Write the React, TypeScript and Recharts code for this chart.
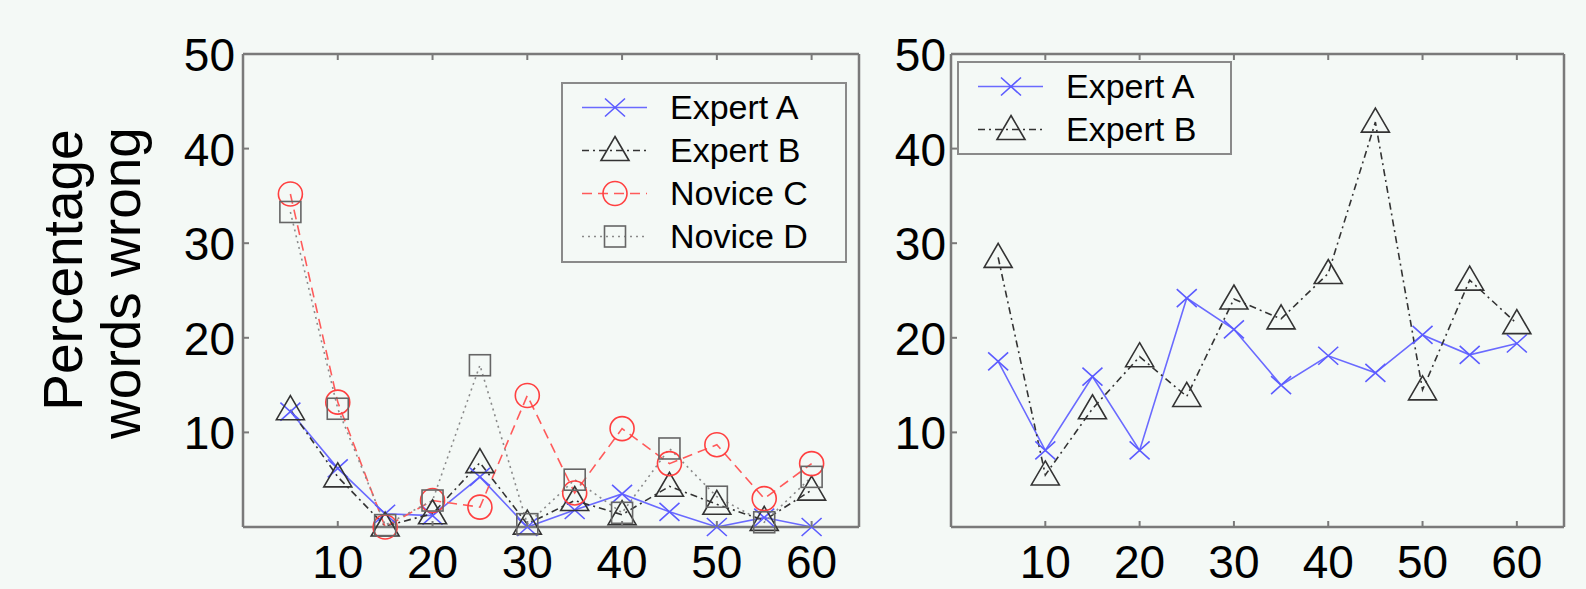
import React from 'react';
import { LineChart, Line, XAxis, YAxis, Legend } from 'recharts';

const BG = '#f4f9f6';
const AXIS = '#7a7a7a';
const FONT = '"Liberation Sans", Arial, Helvetica, sans-serif';

// x positions (same for both panels)
const xValues = [5, 10, 15, 20, 25, 30, 35, 40, 45, 50, 55, 60];
const xTicks = [10, 20, 30, 40, 50, 60];
const yTicks = [10, 20, 30, 40, 50];

// left panel
const expertALeft = [12.2, 6.2, 1.4, 1.2, 5.3, 0, 1.8, 3.5, 1.6, 0, 1.0, 0];
const expertBLeft = [12.4, 5.3, 0.1, 1.4, 6.8, 0.3, 2.8, 1.3, 4.3, 2.4, 0.7, 3.9];
const noviceCLeft = [35.2, 13.2, 0, 2.8, 2.1, 13.9, 3.6, 10.4, 6.7, 8.7, 3.0, 6.7];
const noviceDLeft = [33.3, 12.5, 0.2, 2.8, 17.1, 0.3, 5.0, 1.5, 8.3, 3.2, 0.5, 5.3];

// right panel
const expertARight = [17.5, 8.1, 15.9, 8.1, 24.2, 20.9, 15.0, 18.1, 16.3, 20.3, 18.2, 19.4];
const expertBRight = [28.5, 5.5, 12.5, 18.0, 13.8, 24.1, 22.0, 26.8, 42.8, 14.5, 26.1, 21.5];

type Shape = 'x' | 'triangle' | 'circle' | 'square';

interface SeriesDef {
  key: string;
  name: string;
  color: string;
  markerColor: string;
  dash?: string;
  shape: Shape;
}

const expertA: SeriesDef = { key: 'expertA', name: 'Expert A', color: '#6a6aff', markerColor: '#5c5cff', shape: 'x' };
const expertB: SeriesDef = { key: 'expertB', name: 'Expert B', color: '#333', markerColor: '#333', dash: '7 4 2 4', shape: 'triangle' };
const noviceC: SeriesDef = { key: 'noviceC', name: 'Novice C', color: '#ff5a5a', markerColor: '#ff4040', dash: '10 6', shape: 'circle' };
const noviceD: SeriesDef = { key: 'noviceD', name: 'Novice D', color: '#8a8a8a', markerColor: '#666', dash: '2 4', shape: 'square' };

const leftSeries = [expertA, expertB, noviceC, noviceD];
const rightSeries = [expertA, expertB];

const leftData = xValues.map((x, i) => ({
  x,
  expertA: expertALeft[i],
  expertB: expertBLeft[i],
  noviceC: noviceCLeft[i],
  noviceD: noviceDLeft[i],
}));

const rightData = xValues.map((x, i) => ({
  x,
  expertA: expertARight[i],
  expertB: expertBRight[i],
}));

const Marker: React.FC<{ shape: Shape; cx: number; cy: number; color: string }> = ({ shape, cx, cy, color }) => {
  const common = { fill: 'none', stroke: color, strokeWidth: 1.6 };
  if (shape === 'x') {
    return <path d={`M${cx - 10},${cy - 9}L${cx + 10},${cy + 9}M${cx - 10},${cy + 9}L${cx + 10},${cy - 9}`} {...common} />;
  }
  if (shape === 'triangle') {
    return <path d={`M${cx},${cy - 14}L${cx + 14},${cy + 10}L${cx - 14},${cy + 10}Z`} {...common} />;
  }
  if (shape === 'circle') {
    return <circle cx={cx} cy={cy} r={12} {...common} />;
  }
  return <rect x={cx - 10.5} y={cy - 10.5} width={21} height={21} {...common} />;
};

const renderDot = (s: SeriesDef) => (props: any) => {
  const { cx, cy, index } = props;
  if (cx == null || cy == null) return <g key={`${s.key}-${index}`} />;
  return (
    <g key={`${s.key}-${index}`}>
      <Marker shape={s.shape} cx={cx} cy={cy} color={s.markerColor} />
    </g>
  );
};

const BottomTick = (props: any) => {
  const { x, y, payload } = props;
  return (
    <g>
      <line x1={x} y1={y} x2={x} y2={y - 6} stroke={AXIS} strokeWidth={2} />
      <text x={x} y={y + 51} textAnchor="middle" fontSize={46} fill="#000" fontFamily={FONT}>
        {payload.value}
      </text>
    </g>
  );
};

const TopTick = (props: any) => {
  const { x, y } = props;
  return <line x1={x} y1={y} x2={x} y2={y + 6} stroke={AXIS} strokeWidth={2} />;
};

const makeLeftTick = (gap: number) => (props: any) => {
  const { x, y, payload } = props;
  return (
    <g>
      <line x1={x} y1={y} x2={x + 6} y2={y} stroke={AXIS} strokeWidth={2} />
      <text x={x - gap} y={y + 17} textAnchor="end" fontSize={46} fill="#000" fontFamily={FONT}>
        {payload.value}
      </text>
    </g>
  );
};

const RightTick = (props: any) => {
  const { x, y } = props;
  return <line x1={x} y1={y} x2={x - 6} y2={y} stroke={AXIS} strokeWidth={2} />;
};

const LegendBox: React.FC<{ items: SeriesDef[]; width: number; height: number }> = ({ items, width, height }) => (
  <div
    style={{
      width,
      height,
      boxSizing: 'border-box',
      border: '2px solid #8a8a8a',
      background: BG,
      paddingTop: 2,
    }}
  >
    {items.map((s) => (
      <div key={s.key} style={{ display: 'flex', alignItems: 'center', height: 43 }}>
        <svg width={107} height={43} style={{ flex: 'none', display: 'block' }}>
          <line x1={19} x2={84} y1={21.5} y2={21.5} stroke={s.color} strokeWidth={1.6} strokeDasharray={s.dash} />
          <Marker shape={s.shape} cx={52} cy={21.5} color={s.markerColor} />
        </svg>
        <span style={{ fontFamily: FONT, fontSize: 34, color: '#000', lineHeight: '43px', whiteSpace: 'nowrap' }}>
          {s.name}
        </span>
      </div>
    ))}
  </div>
);

const YLabel = () => (
  <g fontFamily={FONT} fontSize={55} fill="#000">
    <text transform="translate(82,270) rotate(-90)" textAnchor="middle">
      Percentage
    </text>
    <text transform="translate(140,283) rotate(-90)" textAnchor="middle">
      words wrong
    </text>
  </g>
);

interface PanelProps {
  data: any[];
  series: SeriesDef[];
  width: number;
  margin: { top: number; right: number; bottom: number; left: number };
  yWidth: number;
  tickGap: number;
  legend: { left: number; top: number; width: number; height: number };
  showLabel?: boolean;
}

const Panel: React.FC<PanelProps> = ({ data, series, width, margin, yWidth, tickGap, legend, showLabel }) => (
  <LineChart width={width} height={589} data={data} margin={margin}>
    <XAxis
      xAxisId={0}
      dataKey="x"
      type="number"
      domain={[0, 65]}
      ticks={xTicks}
      interval={0}
      height={60}
      tickSize={0}
      tickMargin={0}
      tickLine={false}
      axisLine={{ stroke: AXIS, strokeWidth: 2.5 }}
      tick={<BottomTick />}
    />
    <XAxis
      xAxisId="top"
      orientation="top"
      dataKey="x"
      type="number"
      domain={[0, 65]}
      ticks={xTicks}
      interval={0}
      height={1}
      tickSize={0}
      tickMargin={0}
      tickLine={false}
      axisLine={{ stroke: AXIS, strokeWidth: 2.5 }}
      tick={<TopTick />}
    />
    <YAxis
      yAxisId={0}
      type="number"
      domain={[0, 50]}
      ticks={yTicks}
      interval={0}
      width={yWidth}
      tickSize={0}
      tickMargin={0}
      tickLine={false}
      axisLine={{ stroke: AXIS, strokeWidth: 2.5 }}
      tick={makeLeftTick(tickGap)}
      label={showLabel ? { content: () => <YLabel /> } : undefined}
    />
    <YAxis
      yAxisId="right"
      orientation="right"
      type="number"
      domain={[0, 50]}
      ticks={yTicks}
      interval={0}
      width={1}
      tickSize={0}
      tickMargin={0}
      tickLine={false}
      axisLine={{ stroke: AXIS, strokeWidth: 2.5 }}
      tick={<RightTick />}
    />
    {series.map((s) => (
      <Line
        key={s.key}
        xAxisId={0}
        yAxisId={0}
        type="linear"
        dataKey={s.key}
        name={s.name}
        stroke={s.color}
        strokeWidth={1.6}
        strokeDasharray={s.dash}
        dot={renderDot(s)}
        activeDot={false}
        isAnimationActive={false}
      />
    ))}
    <Legend
      layout="vertical"
      align="center"
      verticalAlign="middle"
      wrapperStyle={{ left: legend.left, top: legend.top, width: legend.width, height: legend.height }}
      content={() => <LegendBox items={series} width={legend.width} height={legend.height} />}
    />
  </LineChart>
);

export default function App() {
  return (
    <div
      style={{
        position: 'absolute',
        left: 0,
        top: 0,
        width: 1586,
        height: 589,
        background: BG,
        overflow: 'hidden',
      }}
    >
      <div style={{ position: 'absolute', left: 0, top: 0 }}>
        <Panel
          data={leftData}
          series={leftSeries}
          width={880}
          margin={{ top: 53, right: 20, bottom: 2, left: 183 }}
          yWidth={60}
          tickGap={8}
          legend={{ left: 561, top: 82, width: 286, height: 181 }}
          showLabel
        />
      </div>
      <div style={{ position: 'absolute', left: 870, top: 0 }}>
        <Panel
          data={rightData}
          series={rightSeries}
          width={716}
          margin={{ top: 53, right: 21, bottom: 2, left: 41 }}
          yWidth={40}
          tickGap={5}
          legend={{ left: 87, top: 61, width: 275, height: 94 }}
        />
      </div>
    </div>
  );
}
